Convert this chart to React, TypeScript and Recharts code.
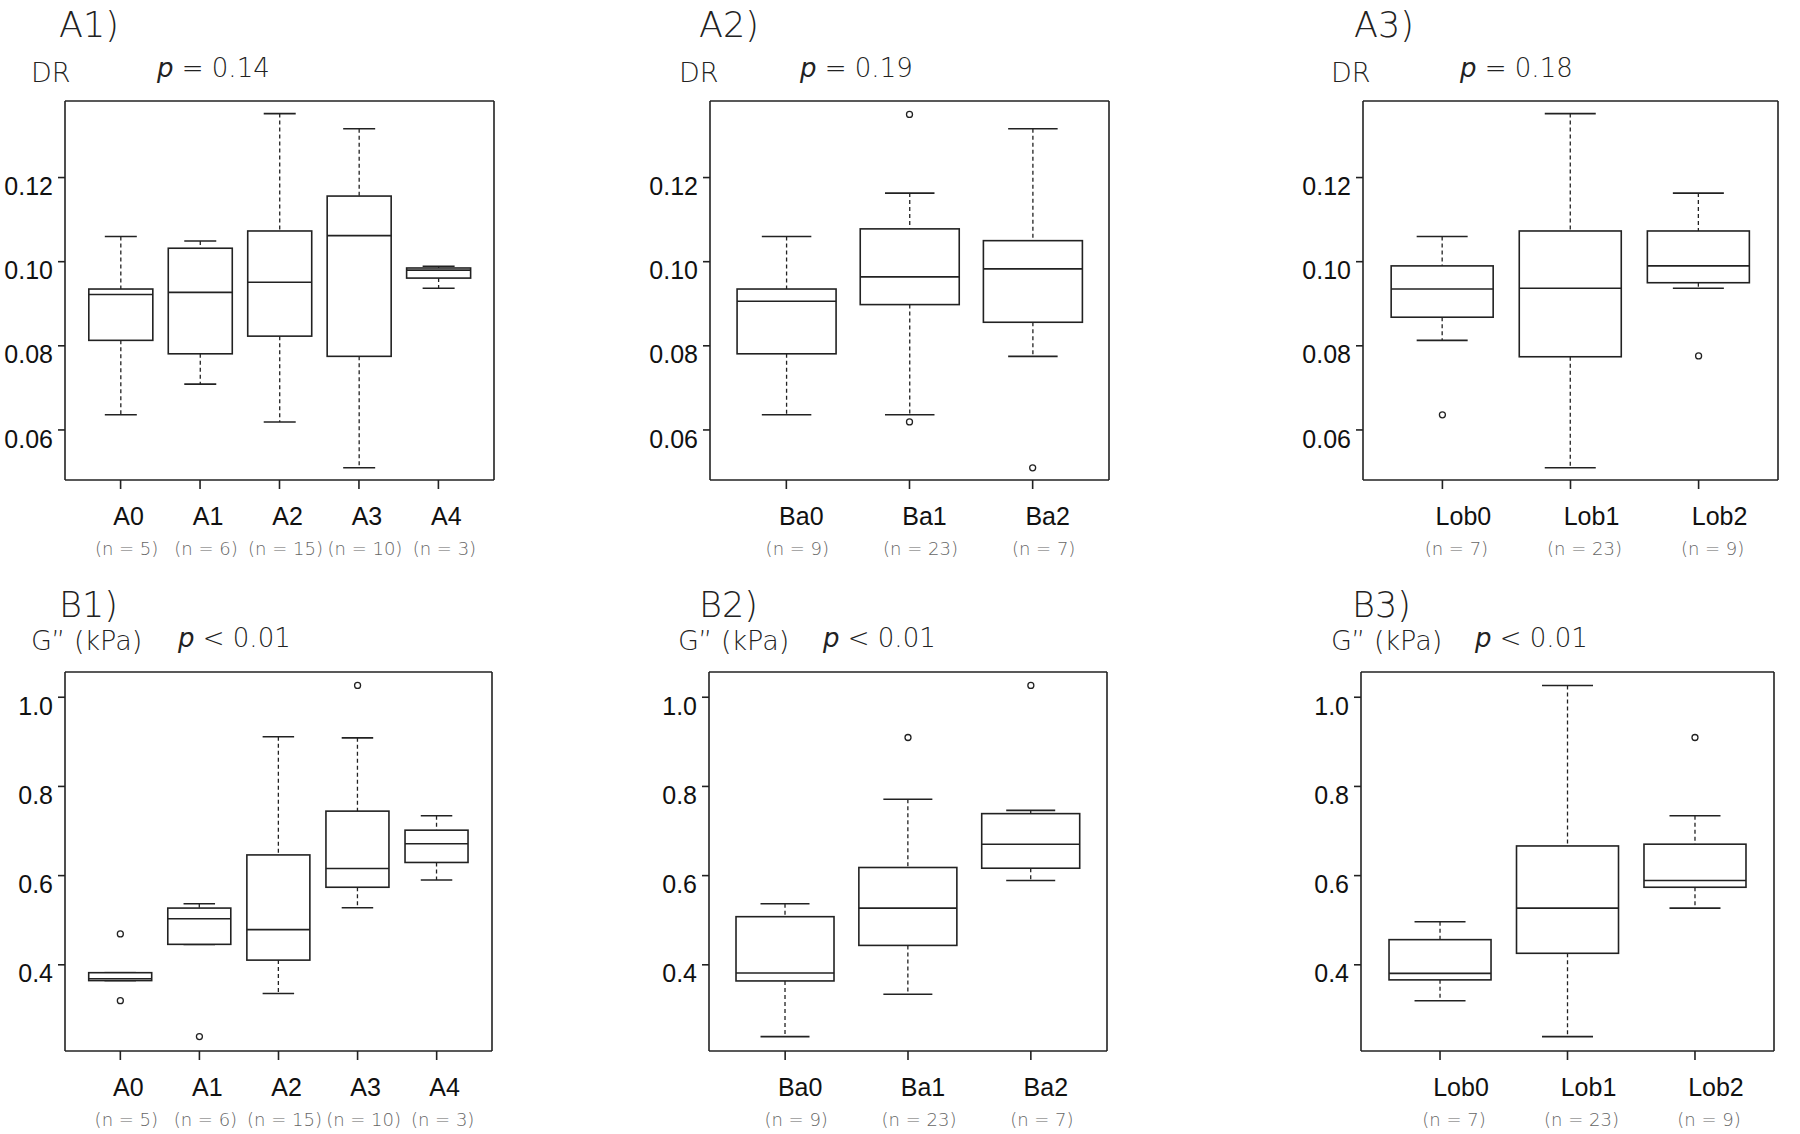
import React from 'react';
import { ComposedChart, Bar, Line, XAxis, YAxis } from 'recharts';

// categories and group sizes
const aCats = ['A0', 'A1', 'A2', 'A3', 'A4'];
const aN = [5, 6, 15, 10, 3];
const baCats = ['Ba0', 'Ba1', 'Ba2'];
const baN = [9, 23, 7];
const lobCats = ['Lob0', 'Lob1', 'Lob2'];
const lobN = [7, 23, 9];

// box stats: [lower whisker, Q1, median, Q3, upper whisker]
const drA = [
    [0.0636, 0.0813, 0.0922, 0.0935, 0.1060],
    [0.0709, 0.0781, 0.0927, 0.1032, 0.1049],
    [0.0619, 0.0823, 0.0951, 0.1073, 0.1352],
    [0.0510, 0.0775, 0.1062, 0.1156, 0.1316],
    [0.0937, 0.0961, 0.0980, 0.0985, 0.0989],
];
const drAOut: number[][] = [[], [], [], [], []];
const drBa = [
    [0.0636, 0.0781, 0.0906, 0.0935, 0.1060],
    [0.0636, 0.0898, 0.0964, 0.1078, 0.1163],
    [0.0775, 0.0856, 0.0983, 0.1050, 0.1316],
];
const drBaOut = [[], [0.1350, 0.0619], [0.0510]];
const drLob = [
    [0.0813, 0.0868, 0.0935, 0.0990, 0.1060],
    [0.0510, 0.0774, 0.0937, 0.1073, 0.1352],
    [0.0937, 0.0950, 0.0990, 0.1073, 0.1163],
];
const drLobOut = [[0.0636], [], [0.0776]];

const gA = [
    [0.3646, 0.3646, 0.3686, 0.3823, 0.3823],
    [0.4459, 0.4459, 0.5031, 0.5272, 0.5369],
    [0.3356, 0.4105, 0.4789, 0.6464, 0.9113],
    [0.5280, 0.5739, 0.6158, 0.7446, 0.9089],
    [0.5900, 0.6295, 0.6713, 0.7019, 0.7341],
];
const gAOut = [[0.4692, 0.3195], [0.2390], [], [1.0264], []];
const gBa = [
    [0.2390, 0.3638, 0.3815, 0.5079, 0.5369],
    [0.3340, 0.4435, 0.5272, 0.6182, 0.7712],
    [0.5892, 0.6166, 0.6705, 0.7390, 0.7462],
];
const gBaOut = [[], [0.9097], [1.0264]];
const gLob = [
    [0.3195, 0.3662, 0.3807, 0.4564, 0.4966],
    [0.2390, 0.4258, 0.5272, 0.6665, 1.0264],
    [0.5272, 0.5739, 0.5892, 0.6705, 0.7341],
];
const gLobOut = [[], [], [0.9097]];

// axes
const drDomain = [0.0481, 0.1382];
const drTicks = [0.06, 0.08, 0.10, 0.12];
const gDomain = [0.2067, 1.0566];
const gTicks = [0.4, 0.6, 0.8, 1.0];

const INK = '#222';
const LIGHT = '"DejaVu Sans", "Noto Sans", sans-serif';
const SANS = '"Liberation Sans", Arial, sans-serif';

const YW = 70;
const MT = 4;
const MR = 4;
const XH = 90;

const buildRows = (cats: string[], ns: number[], stats: number[][], outs: number[][]) =>
    cats.map((name, i) => ({
        name,
        n: ns[i],
        box: [stats[i][1], stats[i][3]],
        lo: stats[i][0],
        med: stats[i][2],
        hi: stats[i][4],
        out1: outs[i][0] ?? null,
        out2: outs[i][1] ?? null,
    }));

const BoxShape = (props: any) => {
    const { x, y, width, height, payload } = props;
    const [q1, q3] = payload.box;
    const top = Math.min(y, y + height);
    const bot = Math.max(y, y + height);
    const py = (v: number) => bot - ((v - q1) / (q3 - q1)) * (bot - top);
    const cx = x + width / 2;
    const cap = width / 4;
    const sw = 1.6;
    return (
        <g>
            <line x1={cx} x2={cx} y1={py(payload.hi)} y2={top} stroke={INK} strokeWidth={1.3} strokeDasharray="4 3" />
            <line x1={cx} x2={cx} y1={bot} y2={py(payload.lo)} stroke={INK} strokeWidth={1.3} strokeDasharray="4 3" />
            <line x1={cx - cap} x2={cx + cap} y1={py(payload.hi)} y2={py(payload.hi)} stroke={INK} strokeWidth={sw} />
            <line x1={cx - cap} x2={cx + cap} y1={py(payload.lo)} y2={py(payload.lo)} stroke={INK} strokeWidth={sw} />
            <rect x={x} y={top} width={width} height={bot - top} fill="#fff" stroke={INK} strokeWidth={sw} />
            <line x1={x} x2={x + width} y1={py(payload.med)} y2={py(payload.med)} stroke={INK} strokeWidth={sw} />
        </g>
    );
};

const panels = [
    { id: 'A1', title: 'A1)', ylab: 'DR', p: '= 0.14', frame: { x: 65, y: 101, w: 429, h: 379 }, tx: 59, ty: 37, lx: 31, ly: 82, px: 157, py: 77, rows: buildRows(aCats, aN, drA, drAOut), domain: drDomain, ticks: drTicks, dec: 2, ldx: 8, ndx: 6 },
    { id: 'A2', title: 'A2)', ylab: 'DR', p: '= 0.19', frame: { x: 710, y: 101, w: 399, h: 379 }, tx: 699, ty: 37, lx: 679, ly: 82, px: 800, py: 77, rows: buildRows(baCats, baN, drBa, drBaOut), domain: drDomain, ticks: drTicks, dec: 2, ldx: 15, ndx: 11 },
    { id: 'A3', title: 'A3)', ylab: 'DR', p: '= 0.18', frame: { x: 1363, y: 101, w: 415, h: 379 }, tx: 1354, ty: 37, lx: 1331, ly: 82, px: 1460, py: 77, rows: buildRows(lobCats, lobN, drLob, drLobOut), domain: drDomain, ticks: drTicks, dec: 2, ldx: 21, ndx: 14 },
    { id: 'B1', title: 'B1)', ylab: 'G” (kPa)', p: '< 0.01', frame: { x: 65, y: 672, w: 427, h: 379 }, tx: 59, ty: 617, lx: 31, ly: 650, px: 178, py: 647, rows: buildRows(aCats, aN, gA, gAOut), domain: gDomain, ticks: gTicks, dec: 1, ldx: 8, ndx: 6 },
    { id: 'B2', title: 'B2)', ylab: 'G” (kPa)', p: '< 0.01', frame: { x: 709, y: 672, w: 398, h: 379 }, tx: 699, ty: 617, lx: 678, ly: 650, px: 823, py: 647, rows: buildRows(baCats, baN, gBa, gBaOut), domain: gDomain, ticks: gTicks, dec: 1, ldx: 15, ndx: 11 },
    { id: 'B3', title: 'B3)', ylab: 'G” (kPa)', p: '< 0.01', frame: { x: 1361, y: 672, w: 413, h: 379 }, tx: 1352, ty: 617, lx: 1331, ly: 650, px: 1475, py: 647, rows: buildRows(lobCats, lobN, gLob, gLobOut), domain: gDomain, ticks: gTicks, dec: 1, ldx: 21, ndx: 14 },
];

const Panel = ({ cfg }: { cfg: (typeof panels)[number] }) => {
    const { frame, rows } = cfg;
    const pad = frame.w * 0.037;
    const axisLine = { stroke: INK, strokeWidth: 1.6 };
    const xTick = (p: any) => {
        const row = rows[p.index] ?? rows.find((r) => r.name === p.payload.value);
        return (
            <g>
                <text x={p.x + cfg.ldx} y={p.y + 34} textAnchor="middle" fontFamily={SANS} fontSize={25} fill="#111">
                    {p.payload.value}
                </text>
                <text x={p.x + cfg.ndx} y={p.y + 64} textAnchor="middle" fontFamily={LIGHT} fontWeight={200} fontSize={18} fill="#666">
                    {`(n = ${row ? row.n : ''})`}
                </text>
            </g>
        );
    };
    const yTick = (p: any) => (
        <text x={p.x - 3} y={p.y + 11} textAnchor="end" dominantBaseline="middle" fontFamily={SANS} fontSize={25} fill="#111">
            {Number(p.payload.value).toFixed(cfg.dec)}
        </text>
    );
    const dot = { r: 3, fill: '#fff', stroke: INK, strokeWidth: 1.3 };
    return (
        <div style={{ position: 'absolute', left: frame.x - YW, top: frame.y - MT - 1 }}>
            <ComposedChart
                width={frame.w + YW + MR + 1}
                height={frame.h + MT + 1 + XH}
                data={rows}
                margin={{ top: MT, right: MR, left: 0, bottom: 0 }}
                barCategoryGap="10%"
            >
                <XAxis
                    dataKey="name"
                    type="category"
                    height={XH}
                    interval={0}
                    padding={{ left: pad, right: pad }}
                    tickSize={9}
                    axisLine={axisLine}
                    tickLine={{ stroke: INK, strokeWidth: 1.6 }}
                    tick={xTick}
                />
                <XAxis xAxisId="top" orientation="top" dataKey="name" height={1} padding={{ left: pad, right: pad }} tick={false} tickLine={false} axisLine={axisLine} />
                <YAxis
                    type="number"
                    width={YW}
                    domain={cfg.domain}
                    ticks={cfg.ticks}
                    allowDataOverflow
                    interval={0}
                    tickSize={7}
                    axisLine={axisLine}
                    tickLine={{ stroke: INK, strokeWidth: 1.6 }}
                    tick={yTick}
                />
                <YAxis yAxisId="right" orientation="right" type="number" width={1} domain={cfg.domain} allowDataOverflow tick={false} tickLine={false} axisLine={axisLine} />
                <Bar dataKey="box" shape={BoxShape} isAnimationActive={false} />
                <Line dataKey="out1" stroke="none" dot={dot} activeDot={false} isAnimationActive={false} />
                <Line dataKey="out2" stroke="none" dot={dot} activeDot={false} isAnimationActive={false} />
            </ComposedChart>
        </div>
    );
};

const App: React.FC = () => {
    return (
        <div style={{ position: 'absolute', left: 0, top: 0, width: 1800, height: 1134, background: '#fff', overflow: 'hidden' }}>
            {panels.map((cfg) => (
                <Panel key={cfg.id} cfg={cfg} />
            ))}
            <svg width={1800} height={1134} style={{ position: 'absolute', left: 0, top: 0, pointerEvents: 'none' }}>
                {panels.map((cfg) => (
                    <g key={cfg.id} fontFamily={LIGHT} fontWeight={200} fill="#222">
                        <text x={cfg.tx} y={cfg.ty} fontSize={35}>{cfg.title}</text>
                        <text x={cfg.lx} y={cfg.ly} fontSize={27}>{cfg.ylab}</text>
                        <text x={cfg.px} y={cfg.py} fontSize={26}>
                            <tspan fontStyle="italic">p</tspan>
                            <tspan>{' ' + cfg.p}</tspan>
                        </text>
                    </g>
                ))}
            </svg>
        </div>
    );
};

export default App;
